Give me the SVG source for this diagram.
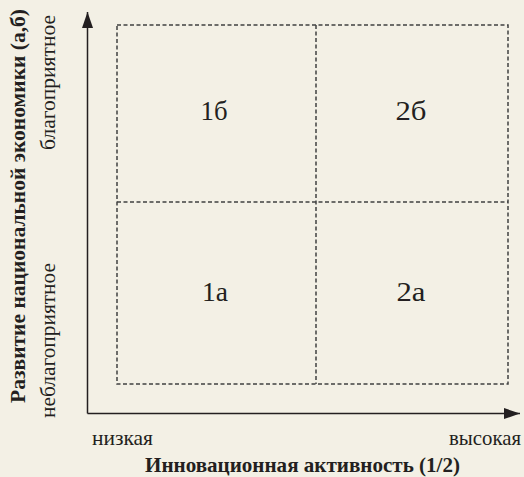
<svg xmlns="http://www.w3.org/2000/svg" width="524" height="477" viewBox="0 0 524 477">
  <defs>
    <style>
      .bg { fill: #f3f0e5; }
      .grid { fill: none; stroke: #404040; stroke-width: 1.5; stroke-dasharray: 4 2.5; }
      .axis { fill: none; stroke: #231f20; stroke-width: 1.5; }
      .lbl { fill: #231f20; font-family: "Liberation Serif", "Times New Roman", serif; }
      .quad { font-size: 28px; text-anchor: middle; }
      .tick { font-size: 22px; }
      .title { font-size: 21px; font-weight: bold; text-anchor: middle; }
    </style>
    <marker id="arrow" viewBox="0 0 16 11" refX="16" refY="5.5" markerWidth="16" markerHeight="11" markerUnits="userSpaceOnUse" orient="auto">
      <path d="M0,0 L16,5.5 L0,11 Z" fill="#231f20"/>
    </marker>
  </defs>
  <rect class="bg" x="0" y="0" width="524" height="477"/>

  <g id="grid">
    <rect class="grid" x="117" y="25" width="391" height="359"/>
    <line class="grid" x1="316" y1="25" x2="316" y2="384"/>
    <line class="grid" x1="117" y1="202" x2="508" y2="202"/>
  </g>

  <g id="connectors">
    <path class="axis" d="M87.5,413.5 L87.5,12" marker-end="url(#arrow)"/>
    <path class="axis" d="M87.5,413.5 L520,413.5" marker-end="url(#arrow)"/>
  </g>

  <g id="q-1b"><text class="lbl quad" x="214" y="120" textLength="27" lengthAdjust="spacingAndGlyphs">1б</text></g>
  <g id="q-2b"><text class="lbl quad" x="411" y="120" textLength="31" lengthAdjust="spacingAndGlyphs">2б</text></g>
  <g id="q-1a"><text class="lbl quad" x="215" y="301" textLength="26" lengthAdjust="spacingAndGlyphs">1а</text></g>
  <g id="q-2a"><text class="lbl quad" x="411" y="301" textLength="29" lengthAdjust="spacingAndGlyphs">2а</text></g>

  <g id="x-axis-labels">
    <text class="lbl tick" x="92" y="445" textLength="61" lengthAdjust="spacingAndGlyphs">низкая</text>
    <text class="lbl tick" x="449" y="445" textLength="72" lengthAdjust="spacingAndGlyphs">высокая</text>
    <text class="lbl title" x="302.5" y="472" textLength="315" lengthAdjust="spacingAndGlyphs">Инновационная активность (1/2)</text>
  </g>

  <g id="y-axis-labels">
    <text class="lbl title" transform="translate(25,206) rotate(-90)" textLength="394" lengthAdjust="spacingAndGlyphs">Развитие национальной экономики (а,б)</text>
    <text class="lbl tick" transform="translate(55,82.5) rotate(-90)" text-anchor="middle" textLength="135" lengthAdjust="spacingAndGlyphs">благоприятное</text>
    <text class="lbl tick" transform="translate(55,340.5) rotate(-90)" text-anchor="middle" textLength="155" lengthAdjust="spacingAndGlyphs">неблагоприятное</text>
  </g>
</svg>
